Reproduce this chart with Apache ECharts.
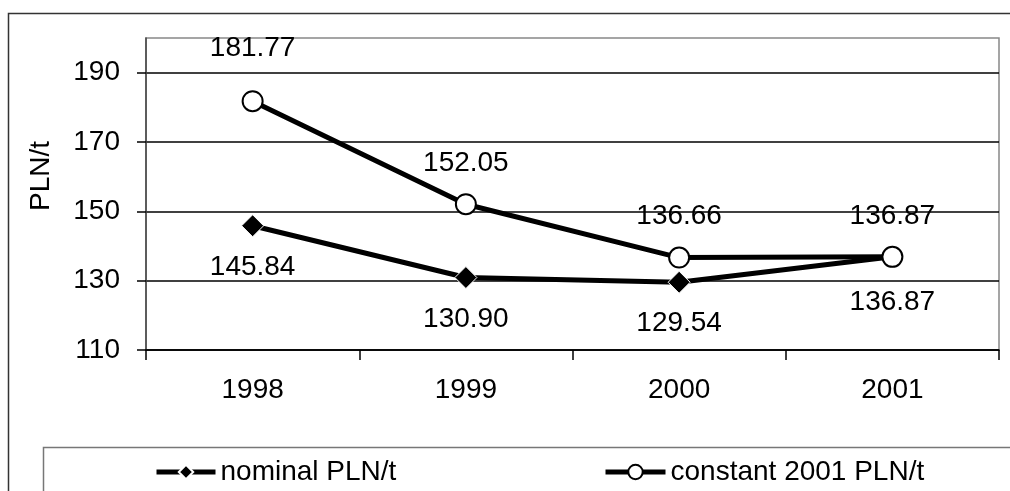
<!DOCTYPE html>
<html>
<head>
<meta charset="utf-8">
<script src="https://cdn.jsdelivr.net/npm/echarts@6/dist/echarts.min.js"></script>
<style>
  html, body { margin: 0; padding: 0; background: #fff; }
  #chart { width: 1010px; height: 491px; }
</style>
</head>
<body>
<div id="chart"></div>
<script>
// categories and series values
var years = ['1998', '1999', '2000', '2001'];
var nominal = [145.84, 130.90, 129.54, 136.87];
var constant2001 = [181.77, 152.05, 136.66, 136.87];
var seriesNames = ['nominal PLN/t', 'constant 2001 PLN/t'];

// label gaps per point (the picture puts them a bit unevenly)
var nominalGap = [16, 16, 16, 20];
var constantGap = [28, 16, 16, 16];

var chart = echarts.init(document.getElementById('chart'));
var font = "'Liberation Sans', Arial, sans-serif";

function withLabels(values, gaps, pos) {
    var out = [];
    for (var i = 0; i < values.length; i++) {
        out.push({
            value: values[i],
            label: { position: pos, distance: gaps[i] }
        });
    }
    return out;
}

var labelStyle = {
    show: true,
    color: '#000',
    fontSize: 28,
    fontFamily: font,
    formatter: function(p) { return p.value.toFixed(2); }
};

var legendText = { fontSize: 28, color: '#000', fontFamily: font };

var option = {
    animation: false,
    backgroundColor: '#fff',
    graphic: [{
        // outer chart border
        type: 'rect',
        shape: { x: 8.5, y: 13.5, width: 1020, height: 500 },
        style: { fill: 'none', stroke: '#333', lineWidth: 1.5 },
        silent: true
    }, {
        // legend box
        type: 'rect',
        shape: { x: 43.5, y: 447.5, width: 1000, height: 80 },
        style: { fill: 'none', stroke: '#777', lineWidth: 1.5 },
        silent: true
    }, {
        type: 'text',
        x: 41,
        y: 176,
        rotation: Math.PI / 2,
        style: {
            text: 'PLN/t',
            fill: '#000',
            font: '28px ' + font,
            align: 'center',
            verticalAlign: 'middle'
        },
        silent: true
    }],
    legend: [{
        data: [seriesNames[0]],
        left: 149,
        top: 453,
        itemWidth: 59,
        itemHeight: 18,
        lineStyle: { width: 5 },
        textStyle: legendText
    }, {
        data: [seriesNames[1]],
        left: 598,
        top: 453,
        itemWidth: 60,
        itemHeight: 18,
        lineStyle: { width: 5 },
        textStyle: legendText
    }],
    grid: {
        left: 146,
        top: 38,
        right: 11,
        bottom: 141,
        show: true,
        borderColor: '#888',
        borderWidth: 1.5,
        containLabel: false
    },
    xAxis: {
        type: 'category',
        data: years,
        boundaryGap: true,
        axisLine: { lineStyle: { color: '#000', width: 1.5 } },
        axisTick: { show: true, length: 10, lineStyle: { color: '#000', width: 1.5 } },
        axisLabel: { color: '#000', fontSize: 28, fontFamily: font, margin: 26 }
    },
    yAxis: {
        type: 'value',
        min: 110,
        max: 200,
        interval: 20,
        axisLine: { show: true, lineStyle: { color: '#444', width: 1.5 } },
        axisTick: { show: true, length: 9, lineStyle: { color: '#000', width: 1.5 } },
        axisLabel: { color: '#000', fontSize: 28, fontFamily: font, margin: 26, showMaxLabel: false },
        splitLine: { show: true, showMaxLine: false, lineStyle: { color: '#000', width: 1.5 } }
    },
    series: [{
        name: seriesNames[0],
        type: 'line',
        data: withLabels(nominal, nominalGap, 'bottom'),
        symbol: 'diamond',
        symbolSize: 22,
        lineStyle: { color: '#000', width: 5 },
        itemStyle: { color: '#000', borderColor: '#fff', borderWidth: 1 },
        label: labelStyle,
        z: 3
    }, {
        name: seriesNames[1],
        type: 'line',
        data: withLabels(constant2001, constantGap, 'top'),
        symbol: 'circle',
        symbolSize: 20,
        lineStyle: { color: '#000', width: 5 },
        itemStyle: { color: '#fff', borderColor: '#000', borderWidth: 2 },
        label: labelStyle,
        z: 4
    }]
};

chart.setOption(option);
</script>
</body>
</html>
